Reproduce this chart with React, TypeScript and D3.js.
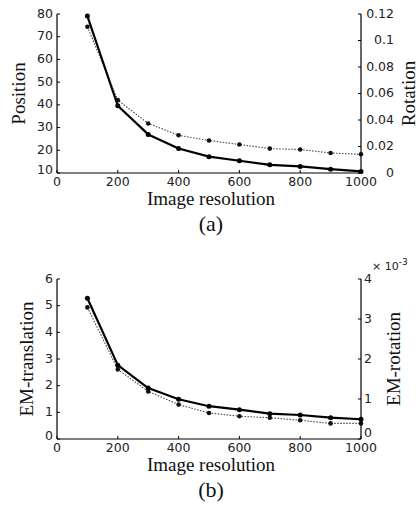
import React from "react";
import * as d3 from "d3";

const resolutions = [100, 200, 300, 400, 500, 600, 700, 800, 900, 1000];
const xTicks = [0, 200, 400, 600, 800, 1000];

// Chart (a)
const positionValues = [79.1, 39.6, 27.0, 20.8, 17.2, 15.4, 13.6, 12.9, 11.7, 10.7];
const rotationValues = [0.1104, 0.055, 0.0374, 0.0285, 0.0245, 0.0215, 0.0184, 0.0177, 0.0151, 0.0141];
const positionTicks = [10, 20, 30, 40, 50, 60, 70, 80];
const rotationTicks = [0, 0.02, 0.04, 0.06, 0.08, 0.1, 0.12];

// Chart (b)
const emTranslationValues = [5.28, 2.77, 1.91, 1.49, 1.23, 1.10, 0.95, 0.90, 0.80, 0.74];
const emRotationValues = [3.29, 1.74, 1.19, 0.86, 0.65, 0.57, 0.53, 0.47, 0.39, 0.39];
const emTranslationTicks = [0, 1, 2, 3, 4, 5, 6];
const emRotationTicks = [0, 1, 2, 3, 4];

const tickFont = "'DejaVu Sans', Verdana, sans-serif";
const serif = "'Liberation Serif', 'Times New Roman', serif";

type PanelProps = {
  top: number;
  bottom: number;
  leftDomain: [number, number];
  rightDomain: [number, number];
  leftTicks: number[];
  rightTicks: number[];
  leftFmt: (v: number) => string;
  rightFmt: (v: number) => string;
  solid: number[];
  dotted: number[];
  leftTitle: string;
  rightTitle: string;
  leftTitleX: number;
  rightTitleX: number;
  rightAlignX: number | null;
  rightLabelX: number;
  caption: string;
  exponent?: boolean;
};

const X0 = 57;
const X1 = 361;

function Panel(p: PanelProps) {
  const x = d3.scaleLinear().domain([0, 1000]).range([X0, X1]);
  const yl = d3.scaleLinear().domain(p.leftDomain).range([p.bottom, p.top]);
  const yr = d3.scaleLinear().domain(p.rightDomain).range([p.bottom, p.top]);
  const solidLine = d3.line<number>().x((_, i) => x(resolutions[i])).y((v) => yl(v));
  const dottedLine = d3.line<number>().x((_, i) => x(resolutions[i])).y((v) => yr(v));
  const midY = (p.top + p.bottom) / 2;
  const midX = (X0 + X1) / 2 + 2;
  return (
    <g>
      {/* dotted series */}
      <path d={dottedLine(p.dotted) || ""} fill="none" stroke="#444" strokeWidth={1.1} strokeDasharray="1.5,1.5" />
      {p.dotted.map((v, i) => (
        <circle key={"d" + i} cx={x(resolutions[i])} cy={yr(v)} r={2.3} fill="#111" />
      ))}
      {/* solid series */}
      <path d={solidLine(p.solid) || ""} fill="none" stroke="#000" strokeWidth={2.2} strokeLinejoin="round" />
      {p.solid.map((v, i) => (
        <circle key={"s" + i} cx={x(resolutions[i])} cy={yl(v)} r={2.5} fill="#000" />
      ))}
      {/* axes */}
      <line x1={X0} x2={X0} y1={p.top} y2={p.bottom} stroke="#000" strokeWidth={1.2} />
      <line x1={X1} x2={X1} y1={p.top} y2={p.bottom} stroke="#000" strokeWidth={1.2} />
      <line x1={X0} x2={X1} y1={p.bottom} y2={p.bottom} stroke="#000" strokeWidth={1.2} />
      {xTicks.map((t) => (
        <g key={"x" + t}>
          <line x1={x(t)} x2={x(t)} y1={p.bottom} y2={p.bottom - 3} stroke="#000" />
          <text x={x(t)} y={p.bottom + 9} textAnchor="middle" dominantBaseline="middle" fontFamily={tickFont} fontSize={12.5} fill="#222">
            {t}
          </text>
        </g>
      ))}
      {p.leftTicks.map((t) => (
        <g key={"l" + t}>
          <line x1={X0} x2={X0 + 3} y1={yl(t)} y2={yl(t)} stroke="#000" />
          <text x={X0 - 4} y={yl(t) - (t === p.leftDomain[0] ? 3 : 0)} textAnchor="end" dominantBaseline="middle" fontFamily={tickFont} fontSize={12.5} fill="#222">
            {p.leftFmt(t)}
          </text>
        </g>
      ))}
      {p.rightTicks.map((t) => (
        <g key={"r" + t}>
          <line x1={X1} x2={X1 - 3} y1={yr(t)} y2={yr(t)} stroke="#000" />
          <text
            x={p.rightAlignX !== null ? p.rightAlignX : p.rightLabelX}
            y={yr(t) - (t === p.rightDomain[0] && p.exponent ? 6 : 0)}
            textAnchor={p.rightAlignX !== null ? "end" : "start"}
            dominantBaseline="middle"
            fontFamily={tickFont}
            fontSize={12.5}
            fill="#222"
          >
            {p.rightFmt(t)}
          </text>
        </g>
      ))}
      {p.exponent && (
        <text x={372} y={p.top - 9} fontFamily={tickFont} fontSize={11} fill="#222">
          × 10
          <tspan dy={-5} fontSize={9}>-3</tspan>
        </text>
      )}
      <text x={midX} y={p.bottom + 28} textAnchor="middle" dominantBaseline="middle" fontFamily={serif} fontSize={19} fill="#111">
        Image resolution
      </text>
      <text x={midX} y={p.bottom + 53} textAnchor="middle" dominantBaseline="middle" fontFamily={serif} fontSize={22} fill="#111">
        {p.caption}
      </text>
      <text
        transform={`translate(${p.leftTitleX},${midY}) rotate(-90)`}
        textAnchor="middle"
        dominantBaseline="middle"
        fontFamily={serif}
        fontSize={19}
        fill="#111"
      >
        {p.leftTitle}
      </text>
      <text
        transform={`translate(${p.rightTitleX},${midY}) rotate(-90)`}
        textAnchor="middle"
        dominantBaseline="middle"
        fontFamily={serif}
        fontSize={19}
        fill="#111"
      >
        {p.rightTitle}
      </text>
    </g>
  );
}

export default function App() {
  return (
    <svg width={419} height={506} style={{ position: "absolute", left: 0, top: 0, background: "#fff" }}>
      <rect width={419} height={506} fill="#fff" />
      <Panel
        top={14}
        bottom={173}
        leftDomain={[10, 80]}
        rightDomain={[0, 0.12]}
        leftTicks={positionTicks}
        rightTicks={rotationTicks}
        leftFmt={(v) => String(v)}
        rightFmt={(v) => (v === 0 ? "0" : d3.format("")(+v.toFixed(2)))}
        solid={positionValues}
        dotted={rotationValues}
        leftTitle="Position"
        rightTitle="Rotation"
        leftTitleX={21}
        rightTitleX={411}
        rightAlignX={394}
        rightLabelX={365}
        caption="(a)"
      />
      <Panel
        top={279}
        bottom={439}
        leftDomain={[0, 6]}
        rightDomain={[0, 4]}
        leftTicks={emTranslationTicks}
        rightTicks={emRotationTicks}
        leftFmt={(v) => String(v)}
        rightFmt={(v) => String(v)}
        solid={emTranslationValues}
        dotted={emRotationValues}
        leftTitle="EM-translation"
        rightTitle="EM-rotation"
        leftTitleX={29}
        rightTitleX={396}
        rightAlignX={null}
        rightLabelX={364}
        caption="(b)"
        exponent
      />
    </svg>
  );
}
